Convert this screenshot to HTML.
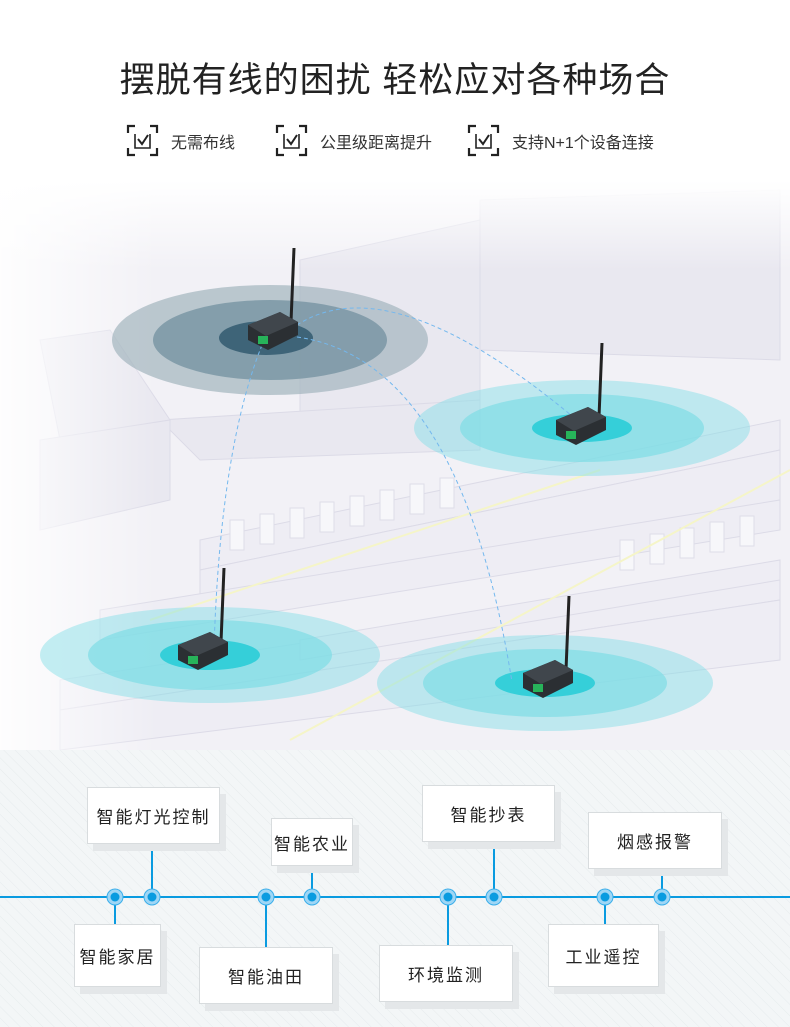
<!DOCTYPE html>
<html><head><meta charset="utf-8"><style>
html,body{margin:0;padding:0}
body{width:790px;height:1027px;position:relative;overflow:hidden;background:#fff;font-family:"Liberation Sans","Noto Sans CJK SC",sans-serif}
.t{position:absolute;left:0;width:790px;top:52px;text-align:center;font-size:35px;color:#222;letter-spacing:1px}
.f{position:absolute;top:124px;font-size:16px;color:#333;display:flex;align-items:center}
.f svg{margin-right:12px}
.box{position:absolute;background:#fff;border:1px solid #d8dcde;box-shadow:6px 7px 0 #e4e7e9;font-size:17px;color:#222;letter-spacing:2px;display:flex;align-items:center;justify-content:center;box-sizing:border-box}
</style></head><body>
<svg width="790" height="1027" style="position:absolute;left:0;top:0">
<defs>
<pattern id="h" width="8" height="8" patternUnits="userSpaceOnUse" patternTransform="rotate(-45)"><rect width="8" height="8" fill="#f3f6f7"/><line x1="0" y1="0" x2="0" y2="8" stroke="#e6ebed" stroke-width="1"/></pattern>
<linearGradient id="fade" x1="0" y1="0" x2="1" y2="0"><stop offset="0" stop-color="#fff" stop-opacity="0.9"/><stop offset="0.2" stop-color="#fff" stop-opacity="0"/></linearGradient>
<linearGradient id="top" x1="0" y1="0" x2="0" y2="1"><stop offset="0" stop-color="#fff" stop-opacity="1"/><stop offset="1" stop-color="#fff" stop-opacity="0"/></linearGradient>
</defs>
<rect x="0" y="180" width="790" height="570" fill="#f2f1f6"/>
<g fill="#e9e8f0" stroke="#dcdbe7" stroke-width="1">
<polygon points="300,260 480,220 480,420 300,450"/>
<polygon points="480,200 780,190 780,360 480,350"/>
<polygon points="160,420 480,400 480,450 200,460"/>
<polygon points="40,340 110,330 170,420 60,440"/>
<polygon points="40,440 170,420 170,500 40,530"/>
</g>
<g fill="#eeedf4" stroke="#dcdbe7">
<polygon points="200,540 780,420 780,450 200,570"/>
<polygon points="200,570 780,450 780,500 200,620"/>
<polygon points="100,610 780,500 780,530 100,640"/>
<polygon points="60,680 780,570 780,600 60,710"/>
<polygon points="60,710 780,600 780,660 60,750"/>
<polygon points="300,640 780,560 780,580 300,660"/>
</g>
<g fill="#f7f7fa" stroke="#dedde8">
<rect x="230" y="520" width="14" height="30"/><rect x="260" y="514" width="14" height="30"/><rect x="290" y="508" width="14" height="30"/><rect x="320" y="502" width="14" height="30"/><rect x="350" y="496" width="14" height="30"/><rect x="380" y="490" width="14" height="30"/><rect x="410" y="484" width="14" height="30"/><rect x="440" y="478" width="14" height="30"/>
<rect x="620" y="540" width="14" height="30"/><rect x="650" y="534" width="14" height="30"/><rect x="680" y="528" width="14" height="30"/><rect x="710" y="522" width="14" height="30"/><rect x="740" y="516" width="14" height="30"/>
</g>
<g stroke="#f5f5c8" stroke-width="2"><line x1="290" y1="740" x2="790" y2="470"/><line x1="150" y1="620" x2="600" y2="470"/></g>
<rect x="0" y="180" width="790" height="570" fill="url(#fade)"/>
<rect x="0" y="180" width="790" height="90" fill="url(#top)"/>
<ellipse cx="270" cy="340" rx="158" ry="55" fill="#a3b5bd" opacity="0.7"/>
<ellipse cx="270" cy="340" rx="117" ry="40" fill="#7a97a5" opacity="0.85"/>
<ellipse cx="266" cy="338" rx="47" ry="17" fill="#3e6478"/>
<g fill="#7fdde6"><ellipse cx="582" cy="428" rx="168" ry="48" opacity="0.45"/><ellipse cx="582" cy="428" rx="122" ry="34" opacity="0.7"/></g>
<ellipse cx="582" cy="428" rx="50" ry="14" fill="#35cfd9"/>
<g fill="#7fdde6"><ellipse cx="210" cy="655" rx="170" ry="48" opacity="0.45"/><ellipse cx="210" cy="655" rx="122" ry="35" opacity="0.7"/></g>
<ellipse cx="210" cy="655" rx="50" ry="15" fill="#35cfd9"/>
<g fill="#7fdde6"><ellipse cx="545" cy="683" rx="168" ry="48" opacity="0.45"/><ellipse cx="545" cy="683" rx="122" ry="34" opacity="0.7"/></g>
<ellipse cx="545" cy="683" rx="50" ry="14" fill="#35cfd9"/>
<g fill="none" stroke="#74b8ee" stroke-width="1" stroke-dasharray="4,3">
<path d="M297,325 Q390,265 572,416"/>
<path d="M297,337 Q460,360 512,682"/>
<path d="M262,345 Q220,450 214,649"/>
</g>
<g id="d">
<line x1="294" y1="248" x2="291" y2="322" stroke="#222" stroke-width="3"/>
<polygon points="248,325 280,312 298,322 298,335 268,350 248,340" fill="#2b2f33"/>
<polygon points="248,325 280,312 298,322 266,336" fill="#40464c"/>
<rect x="258" y="336" width="10" height="8" fill="#27b35a"/>
</g>
<use href="#d" transform="translate(308,95)"/>
<use href="#d" transform="translate(-70,320)"/>
<use href="#d" transform="translate(275,348)"/>
<rect x="0" y="750" width="790" height="277" fill="url(#h)"/>
<line x1="0" y1="897" x2="790" y2="897" stroke="#0a9be0" stroke-width="2"/>
<g stroke="#0a9be0" stroke-width="2">
<line x1="152" y1="843" x2="152" y2="897"/><line x1="312" y1="865" x2="312" y2="897"/>
<line x1="494" y1="841" x2="494" y2="897"/><line x1="662" y1="868" x2="662" y2="897"/>
<line x1="115" y1="897" x2="115" y2="924"/><line x1="266" y1="897" x2="266" y2="947"/>
<line x1="448" y1="897" x2="448" y2="945"/><line x1="605" y1="897" x2="605" y2="924"/>
</g>
<g id="n"><circle cx="115" cy="897" r="8" fill="#9fd6f5" stroke="#3aaeea" stroke-width="1"/><circle cx="115" cy="897" r="4.5" fill="#0a9be0"/></g>
<use href="#n" x="37"/><use href="#n" x="151"/><use href="#n" x="197"/><use href="#n" x="333"/><use href="#n" x="379"/><use href="#n" x="490"/><use href="#n" x="547"/>
</svg>
<div class="t">摆脱有线的困扰 轻松应对各种场合</div>
<div class="f" style="left:126px"><svg width="33" height="33" viewBox="0 0 33 33" fill="none" stroke="#222" stroke-width="2.2"><path d="M2,9V2H9M24,2H31V9M31,24V31H24M9,31H2V24"/><path d="M9,10V24H24V10" stroke-width="1.6"/><path d="M12,15l4,5l6-9" stroke-width="2"/></svg>无需布线</div>
<div class="f" style="left:275px"><svg width="33" height="33" viewBox="0 0 33 33" fill="none" stroke="#222" stroke-width="2.2"><path d="M2,9V2H9M24,2H31V9M31,24V31H24M9,31H2V24"/><path d="M9,10V24H24V10" stroke-width="1.6"/><path d="M12,15l4,5l6-9" stroke-width="2"/></svg>公里级距离提升</div>
<div class="f" style="left:467px"><svg width="33" height="33" viewBox="0 0 33 33" fill="none" stroke="#222" stroke-width="2.2"><path d="M2,9V2H9M24,2H31V9M31,24V31H24M9,31H2V24"/><path d="M9,10V24H24V10" stroke-width="1.6"/><path d="M12,15l4,5l6-9" stroke-width="2"/></svg>支持N+1个设备连接</div>
<div class="box" style="left:87px;top:787px;width:133px;height:57px">智能灯光控制</div>
<div class="box" style="left:271px;top:818px;width:82px;height:48px">智能农业</div>
<div class="box" style="left:422px;top:785px;width:133px;height:57px">智能抄表</div>
<div class="box" style="left:588px;top:812px;width:134px;height:57px">烟感报警</div>
<div class="box" style="left:74px;top:924px;width:87px;height:63px">智能家居</div>
<div class="box" style="left:199px;top:947px;width:134px;height:57px">智能油田</div>
<div class="box" style="left:379px;top:945px;width:134px;height:57px">环境监测</div>
<div class="box" style="left:548px;top:924px;width:111px;height:63px">工业遥控</div>
</body></html>
